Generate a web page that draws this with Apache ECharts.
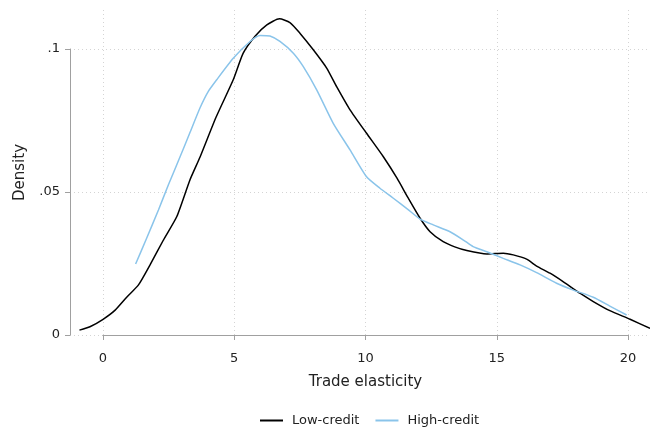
<!DOCTYPE html>
<html>
<head>
<meta charset="utf-8">
<script src="https://cdn.jsdelivr.net/npm/echarts@6/dist/echarts.min.js"></script>
<style>html,body{margin:0;padding:0;background:#fff}#c{width:650px;height:428px}</style>
</head>
<body>
<div id="c"></div>
<script>
const xTicks = [0, 5, 10, 15, 20];
const yTicks = [0, 0.05, 0.1];
const yTickLabels = ['0', '.05', '.1'];
const seriesNames = ['Low-credit', 'High-credit'];
const lowCredit = [
  [-0.9,0.0017],[-0.5,0.0029],[0,0.0055],[0.46,0.0087],[0.9,0.0132],[1.35,0.0175],[1.79,0.0245],
  [2.3,0.0332],[2.81,0.0414],[3.31,0.0542],[3.7,0.0623],[4.3,0.0760],[4.96,0.0892],[5.34,0.0985],
  [5.8,0.1045],[6.24,0.1084],[6.72,0.1105],[7.12,0.1092],[7.5,0.1055],[8.01,0.0997],[8.52,0.0933],
  [8.9,0.0868],[9.41,0.0787],[10.04,0.0705],[10.68,0.0623],[11.2,0.0548],[11.63,0.0478],[12.08,0.0408],
  [12.46,0.0361],[12.96,0.0326],[13.4,0.0308],[13.86,0.0295],[14.62,0.0283],[15.25,0.0286],[15.63,0.028],
  [16.14,0.0265],[16.52,0.0241],[17.03,0.0216],[17.54,0.0186],[18.17,0.0146],[18.68,0.0117],
  [19.31,0.0085],[20.08,0.0055],[20.84,0.0023]
];
const highCredit = [
  [1.24,0.0248],[1.66,0.0338],[2.11,0.0437],[2.49,0.0525],[2.93,0.0622],[3.3,0.0705],[3.7,0.0795],
  [4.0,0.0850],[4.33,0.0892],[4.96,0.0967],[5.6,0.1026],[5.98,0.1047],[6.36,0.1045],[6.74,0.1026],
  [7.25,0.0985],[7.63,0.0938],[8.14,0.0857],[8.77,0.074],[9.41,0.0647],[10.04,0.0553],[10.55,0.0513],
  [11.06,0.0478],[11.6,0.0440],[12.08,0.0405],[12.58,0.0385],[13.22,0.0361],[13.73,0.0332],
  [14.1,0.0309],[14.62,0.0291],[15.25,0.0268],[15.89,0.0245],[16.52,0.0218],[17.28,0.0181],
  [17.92,0.0157],[18.68,0.0132],[19.31,0.0101],[19.95,0.007]
];
const FONT = 'DejaVu Sans';
const chart = echarts.init(document.getElementById('c'), null, {renderer: 'canvas'});
const gridLine = {show: true, lineStyle: {color: '#d4d4d4', type: [1, 3], width: 1}};
chart.setOption({
  animation: false,
  textStyle: {fontFamily: FONT},
  grid: [
    {left: 70, right: 0, top: 10, bottom: 93},
    {left: 103, right: 22, top: 10, bottom: 93},
    {left: 70, right: 0, top: 49, bottom: 93}
  ],
  xAxis: [
    {gridIndex: 0, type: 'value', min: -1.26, max: 20.84, show: false},
    {gridIndex: 1, type: 'value', min: xTicks[0], max: xTicks[xTicks.length-1], interval: 5, offset: 10,
     axisLine: {show: true, lineStyle: {color: '#a0a0a0', width: 1}},
     axisTick: {show: true, length: 5, lineStyle: {color: '#a0a0a0'}},
     axisLabel: {color: '#222', fontSize: 13, margin: 7, fontFamily: FONT},
     splitLine: gridLine,
     name: 'Trade elasticity', nameLocation: 'middle', nameGap: 30,
     nameTextStyle: {color: '#222', fontSize: 15, fontFamily: FONT}},
    {gridIndex: 2, type: 'value', min: 0, max: 1, show: false}
  ],
  yAxis: [
    {gridIndex: 0, type: 'value', min: 0, max: 0.1136, show: true,
     axisLine: {show: false}, axisTick: {show: false}, axisLabel: {show: false}, splitLine: {show: false},
     name: 'Density', nameLocation: 'middle', nameGap: 42,
     nameTextStyle: {color: '#222', fontSize: 15, fontFamily: FONT}},
    {gridIndex: 1, type: 'value', min: 0, max: 1, show: false},
    {gridIndex: 2, type: 'value', min: yTicks[0], max: yTicks[yTicks.length-1], interval: 0.05, offset: 1,
     axisLine: {show: true, lineStyle: {color: '#a0a0a0', width: 1}},
     axisTick: {show: true, length: 5, lineStyle: {color: '#a0a0a0'}},
     axisLabel: {color: '#222', fontSize: 13, margin: 9, fontFamily: FONT,
       formatter: v => { const i = yTicks.findIndex(t => Math.abs(t - v) < 1e-9); return i >= 0 ? yTickLabels[i] : ''; }},
     splitLine: gridLine}
  ],
  legend: {
    top: 409, left: 255, itemWidth: 23, itemHeight: 2, itemGap: 16,
    icon: 'rect',
    textStyle: {color: '#222', fontSize: 13, fontFamily: FONT, padding: [0, 0, 0, 4]},
    data: seriesNames
  },
  series: [
    {name: seriesNames[0], type: 'line', xAxisIndex: 0, yAxisIndex: 0, data: lowCredit, showSymbol: false, smooth: 0.2,
     lineStyle: {color: '#000000', width: 1.5}, itemStyle: {color: '#000000'}},
    {name: seriesNames[1], type: 'line', xAxisIndex: 0, yAxisIndex: 0, data: highCredit, showSymbol: false, smooth: 0.2,
     lineStyle: {color: '#8ac4ea', width: 1.5}, itemStyle: {color: '#8ac4ea'}}
  ]
});
</script>
</body>
</html>
